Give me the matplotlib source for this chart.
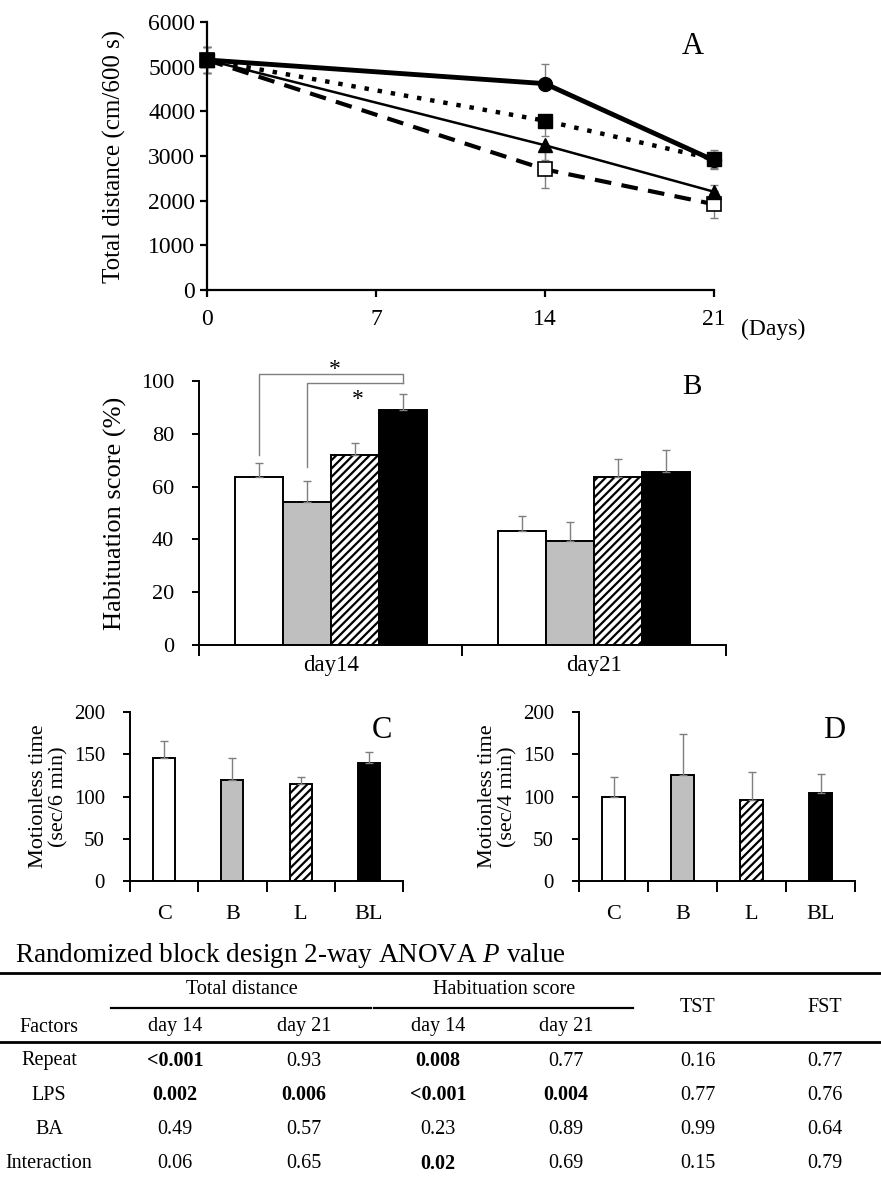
import matplotlib
matplotlib.use("Agg")
import matplotlib.pyplot as plt
from matplotlib.lines import Line2D
import numpy as np

plt.rcParams['font.family'] = ['Liberation Serif', 'DejaVu Serif']
plt.rcParams['mathtext.fontset'] = 'custom'
plt.rcParams['mathtext.rm'] = 'Liberation Serif'
plt.rcParams['mathtext.it'] = 'Liberation Serif:italic'
plt.rcParams['hatch.linewidth'] = 1.6

W, H = 881, 1184
fig = plt.figure(figsize=(W / 100, H / 100), dpi=100)

def ax_px(l, t, r, b):
    return fig.add_axes([l / W, 1 - b / H, (r - l) / W, (b - t) / H])

ERR_C = '#7f7f7f'

# ---------------- Panel A data ----------------
days = [0, 14, 21]
dist_circle = [5150, 4620, 2900]
dist_circle_err_lo = [300, 0, 200]
dist_circle_err_hi = [300, 450, 200]
dist_fsquare = [5150, 3790, 2930]
dist_fsquare_err_lo = [300, 350, 200]
dist_fsquare_err_hi = [300, 0, 200]
dist_triangle = [5150, 3240, 2200]
dist_triangle_err_lo = [300, 340, 150]
dist_triangle_err_hi = [300, 0, 150]
dist_osquare = [5150, 2700, 1920]
dist_osquare_err_lo = [300, 410, 300]
dist_osquare_err_hi = [300, 410, 300]
xticks_A = [0, 7, 14, 21]
yticks_A = [0, 1000, 2000, 3000, 4000, 5000, 6000]

# ---------------- Panel B data ----------------
groups = ['C', 'B', 'L', 'BL']
hab_days = ['day14', 'day21']
hab_C = [63.5, 43.0]
hab_B = [54.0, 39.3]
hab_L = [72.0, 63.7]
hab_BL = [89.2, 65.6]
hab_C_err = [5.4, 5.9]
hab_B_err = [8.0, 7.2]
hab_L_err = [4.7, 6.8]
hab_BL_err = [6.0, 8.3]

# ---------------- Panel C / D data ----------------
tst_vals = [145, 120, 114.6, 140]
tst_err = [21, 26, 9, 13]
fst_vals = [99.6, 125, 96.4, 103.6]
fst_err = [23, 48.5, 33, 23.3]

# ---------------- Table data ----------------
factors = ['Repeat', 'LPS', 'BA', 'Interaction']
td_day14 = ['<0.001', '0.002', '0.49', '0.06']
td_day21 = ['0.93', '0.006', '0.57', '0.65']
hs_day14 = ['0.008', '<0.001', '0.23', '0.02']
hs_day21 = ['0.77', '0.004', '0.89', '0.69']
tst_p = ['0.16', '0.77', '0.99', '0.15']
fst_p = ['0.77', '0.76', '0.64', '0.79']

fill_colors = ['white', '#bfbfbf', 'white', 'black']
hatches = [None, None, '////', None]

def style_axes(ax, lw=1.4):
    for s in ['top', 'right']:
        ax.spines[s].set_visible(False)
    for s in ['left', 'bottom']:
        ax.spines[s].set_linewidth(lw)
    ax.tick_params(direction='out', width=lw, length=5)

# ================= Panel A =================
axA = ax_px(207, 22, 714, 290)
style_axes(axA, 1.6)
series = [
    (dist_osquare, dist_osquare_err_lo, dist_osquare_err_hi,
     dict(ls=(0, (4, 2.5)), lw=3.0, marker='s', mfc='white', mec='black', ms=10, mew=1.2)),
    (dist_triangle, dist_triangle_err_lo, dist_triangle_err_hi,
     dict(ls='-', lw=1.8, marker='^', mfc='black', mec='black', ms=10)),
    (dist_fsquare, dist_fsquare_err_lo, dist_fsquare_err_hi,
     dict(ls=(0, (1, 2)), lw=3.2, marker='s', mfc='black', mec='black', ms=10)),
    (dist_circle, dist_circle_err_lo, dist_circle_err_hi,
     dict(ls='-', lw=3.5, marker='o', mfc='black', mec='black', ms=10)),
]
for vals, lo, hi, kw in series:
    axA.errorbar(days, vals, yerr=[lo, hi], fmt='none', ecolor=ERR_C, elinewidth=1.0,
                 capsize=3, capthick=1.0, clip_on=False, zorder=2)
for vals, lo, hi, kw in series:
    axA.plot(days, vals, color='black', clip_on=False, zorder=3, **kw)
axA.set_xlim(0, 21)
axA.set_ylim(0, 6000)
axA.set_xticks(xticks_A)
axA.set_yticks(yticks_A)
axA.tick_params(labelsize=17)
axA.tick_params(axis='x', pad=9)
axA.set_ylabel('Total distance (cm/600 s)', fontsize=18, labelpad=16)
fig.text(693 / W, 1 - 47 / H, 'A', fontsize=22, ha='center', va='center')
fig.text(773 / W, 1 - 329 / H, '(Days)', fontsize=17, ha='center', va='center')

# ================= Panel B =================
axB = ax_px(199, 381, 726, 645)
style_axes(axB, 1.4)
wB = 0.182
centers = np.arange(len(hab_days)) + 0.5
hab_all = [hab_C, hab_B, hab_L, hab_BL]
hab_err_all = [hab_C_err, hab_B_err, hab_L_err, hab_BL_err]
for i in range(4):
    xs = centers + (i - 1.5) * wB
    axB.bar(xs, hab_all[i], width=wB, color=fill_colors[i], edgecolor='black', linewidth=1.4,
            hatch=hatches[i], zorder=2)
    axB.errorbar(xs, hab_all[i], yerr=[np.zeros(2), hab_err_all[i]], fmt='none', ecolor=ERR_C,
                 elinewidth=1.0, capsize=3, capthick=1.0, zorder=3)
axB.set_xlim(0, 2)
axB.set_ylim(0, 100)
axB.set_yticks([0, 20, 40, 60, 80, 100])
axB.set_xticks([0, 1, 2])
axB.set_xticklabels([])
axB.set_xticks(centers, minor=True)
axB.set_xticklabels(hab_days, minor=True)
axB.tick_params(axis='x', which='minor', length=0, labelsize=16.5, pad=7)
axB.tick_params(axis='both', which='major', labelsize=16)
axB.tick_params(axis='y', which='major', pad=13)
axB.tick_params(axis='x', which='major', length=8)
axB.set_ylabel('Habituation score (%)', fontsize=19, labelpad=10)
xw = centers[0] - 1.5 * wB
xg = centers[0] - 0.5 * wB
xb = centers[0] + 1.5 * wB
axB.plot([xw, xw, xb, xb], [72, 102.5, 102.5, 99.2], color=ERR_C, lw=1.0, clip_on=False, zorder=4)
axB.plot([xg, xg, xb], [67.6, 99.2, 99.2], color=ERR_C, lw=1.0, clip_on=False, zorder=4)
axB.text(0.516, 104.5, '*', fontsize=17, ha='center', va='center')
axB.text(0.603, 93.0, '*', fontsize=17, ha='center', va='center')
fig.text(692 / W, 1 - 387 / H, 'B', fontsize=21, ha='center', va='center')

# ================= Panels C & D =================
def small_bar(rect, vals, errs, ylabel, letter, letter_x):
    ax = ax_px(*rect)
    style_axes(ax, 1.4)
    xs = np.arange(len(groups)) + 0.5
    for i in range(4):
        ax.bar(xs[i], vals[i], width=0.32, color=fill_colors[i], edgecolor='black', linewidth=1.4,
               hatch=hatches[i], zorder=2)
    ax.errorbar(xs, vals, yerr=[np.zeros(4), errs], fmt='none', ecolor=ERR_C, elinewidth=1.0,
                capsize=3, capthick=1.0, zorder=3)
    ax.set_xlim(0, 4)
    ax.set_ylim(0, 200)
    ax.set_yticks([0, 50, 100, 150, 200])
    ax.set_xticks([0, 1, 2, 3, 4])
    ax.set_xticklabels([])
    ax.set_xticks(xs, minor=True)
    ax.set_xticklabels(groups, minor=True)
    ax.tick_params(axis='x', which='minor', length=0, labelsize=16, pad=17)
    ax.tick_params(axis='both', which='major', labelsize=15)
    ax.tick_params(axis='y', which='major', pad=13)
    ax.tick_params(axis='x', which='major', length=8)
    ax.set_ylabel(ylabel, fontsize=16, labelpad=4, linespacing=1.05)
    fig.text(letter_x / W, 1 - 730 / H, letter, fontsize=22, ha='center', va='center')
    return ax

small_bar((130, 712, 403, 881), tst_vals, tst_err, 'Motionless time\n(sec/6 min)', 'C', 382)
small_bar((579, 712, 855, 881), fst_vals, fst_err, 'Motionless time\n(sec/4 min)', 'D', 834)

# ================= Table =================
def fy(y):
    return 1 - y / H

fig.text(15 / W, fy(955), r'Randomized block design 2-way ANOVA $\it{P}$ value', fontsize=19.5,
         ha='left', va='center')
fig.add_artist(Line2D([0, 1], [fy(973), fy(973)], color='black', lw=2.0, transform=fig.transFigure))
fig.add_artist(Line2D([0, 1], [fy(1042), fy(1042)], color='black', lw=2.0, transform=fig.transFigure))
fig.add_artist(Line2D([111 / W, 371 / W], [fy(1008), fy(1008)], color='black', lw=1.6, transform=fig.transFigure))
fig.add_artist(Line2D([374 / W, 633 / W], [fy(1008), fy(1008)], color='black', lw=1.6, transform=fig.transFigure))

TFS = 14.5
fig.text(242 / W, fy(990), 'Total distance', fontsize=TFS, ha='center', va='center')
fig.text(504 / W, fy(990), 'Habituation score', fontsize=TFS, ha='center', va='center')
fig.text(698 / W, fy(1008), 'TST', fontsize=TFS, ha='center', va='center')
fig.text(825 / W, fy(1008), 'FST', fontsize=TFS, ha='center', va='center')
col_x = [49, 175, 304, 438, 566, 698, 825]
sub_heads = ['Factors', 'day 14', 'day 21', 'day 14', 'day 21']
for x, s in zip(col_x, sub_heads):
    fig.text(x / W, fy(1027), s, fontsize=TFS, ha='center', va='center')

row_y = [1061, 1095, 1130, 1164]
columns = [td_day14, td_day21, hs_day14, hs_day21, tst_p, fst_p]

def is_sig(s):
    return float(s.replace('<', '')) < 0.05

for r, fac in enumerate(factors):
    fig.text(col_x[0] / W, fy(row_y[r]), fac, fontsize=TFS, ha='center', va='center')
    for c, col in enumerate(columns):
        s = col[r]
        fig.text(col_x[c + 1] / W, fy(row_y[r]), s, fontsize=TFS, ha='center', va='center',
                 fontweight='bold' if is_sig(s) else 'normal')

fig.savefig('out.png', dpi=100)
